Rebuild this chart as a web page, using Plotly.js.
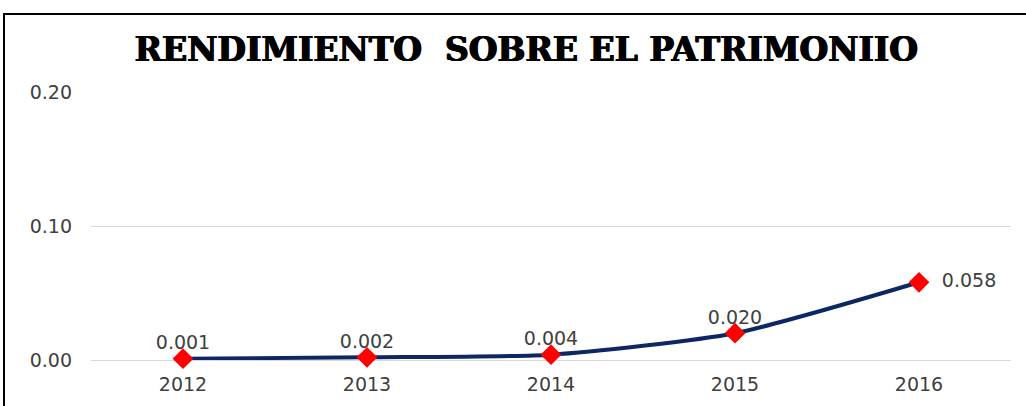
<!DOCTYPE html>
<html>
<head>
<meta charset="utf-8">
<script src="https://cdn.plot.ly/plotly-3.0.1.min.js"></script>
<style>html,body{margin:0;padding:0;background:#fff;}#chart{width:1026px;height:406px;}</style>
</head>
<body>
<div id="chart"></div>
<script>
const years = ['2012', '2013', '2014', '2015', '2016'];
const roe = [0.001, 0.002, 0.004, 0.020, 0.058];
const labels = ['0.001', '0.002', '0.004', '0.020', '0.058'];
const labelPos = ['top center', 'top center', 'top center', 'top center', 'middle right'];
const yTicks = [0, 0.10, 0.20];
const yTickText = ['0.00', '0.10', '0.20'];

const lineTrace = {
  x: years,
  y: roe,
  type: 'scatter',
  mode: 'lines+markers',
  line: {color: '#0c2764', width: 4, shape: 'spline', smoothing: 0.6},
  marker: {symbol: 'diamond', size: 16, color: '#ff0000'},
  cliponaxis: false,
  hoverinfo: 'none'
};

const labelTrace = {
  x: years,
  y: roe,
  type: 'scatter',
  mode: 'markers+text',
  marker: {size: 6, color: 'rgba(0,0,0,0)'},
  text: labels.map((t, i) => labelPos[i] === 'middle right' ? '&nbsp;&nbsp;&nbsp;' + t : t),
  textposition: labelPos,
  textfont: {family: 'DejaVu Sans', size: 19, color: '#404040'},
  cliponaxis: false,
  hoverinfo: 'none'
};

const layout = {
  width: 1026,
  height: 406,
  margin: {l: 91, r: 15, t: 92, b: 46},
  paper_bgcolor: '#ffffff',
  plot_bgcolor: '#ffffff',
  showlegend: false,
  title: {
    text: 'RENDIMIENTO&nbsp; SOBRE EL PATRIMONIIO',
    font: {family: 'DejaVu Serif', size: 33, color: '#000000', weight: 900,
           shadow: '0.7px 0 0 #000, -0.7px 0 0 #000, 0 0.5px 0 #000'},
    x: 0.513,
    xanchor: 'center',
    y: 1 - 49 / 406,
    yanchor: 'middle'
  },
  xaxis: {
    type: 'category',
    range: [-0.5, 4.5],
    showgrid: false,
    showline: false,
    zeroline: false,
    ticks: '',
    tickfont: {family: 'DejaVu Sans', size: 19, color: '#404040'},
    ticklabelstandoff: 11
  },
  yaxis: {
    range: [0, 0.2],
    tickvals: yTicks,
    ticktext: yTickText,
    showgrid: true,
    gridcolor: '#d9d9d9',
    gridwidth: 1,
    zeroline: true,
    zerolinecolor: '#d9d9d9',
    zerolinewidth: 1,
    showline: false,
    ticks: '',
    tickfont: {family: 'DejaVu Sans', size: 19, color: '#404040'},
    ticklabelstandoff: 18
  },
  shapes: [{
    type: 'rect',
    xref: 'paper', yref: 'paper',
    x0: (4 - 91) / 920, x1: (1040 - 91) / 920,
    y0: (360 - 420) / 268, y1: (360 - 14) / 268,
    line: {color: '#000000', width: 2},
    fillcolor: 'rgba(0,0,0,0)',
    layer: 'below'
  }]
};

Plotly.newPlot('chart', [lineTrace, labelTrace], layout, {staticPlot: true, displayModeBar: false});
</script>
</body>
</html>
